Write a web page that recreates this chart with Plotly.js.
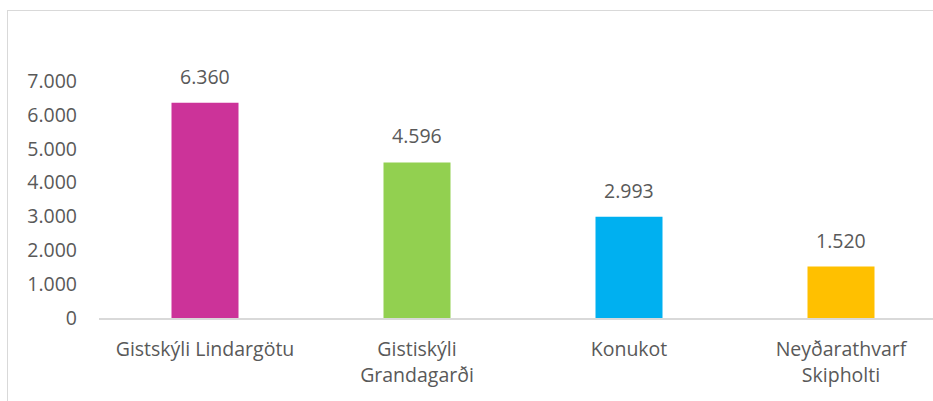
<!DOCTYPE html>
<html><head><meta charset="utf-8">
<script src="https://cdn.plot.ly/plotly-3.0.1.min.js"></script>
<style>
html,body{margin:0;padding:0;overflow:hidden;background:#fff;}
#wrap{position:relative;width:933px;height:401px;overflow:hidden;}
#chart{position:absolute;left:0;top:0;}
#frame{position:absolute;left:7px;top:10px;width:960px;height:420px;border:1px solid #d9d9d9;pointer-events:none;}
</style></head>
<body>
<div id="wrap"><div id="chart"></div><div id="frame"></div></div>
<script>
const categories = ["Gistskýli Lindargötu", "Gistiskýli<br>Grandagarði", "Konukot", "Neyðarathvarf<br>Skipholti"];
const values = [6360, 4596, 2993, 1520];
const labels = ["6.360", "4.596", "2.993", "1.520"];
const colors = ["#CC3399", "#92D050", "#00B0F0", "#FFC000"];
const tickVals = [0, 1000, 2000, 3000, 4000, 5000, 6000, 7000];
const tickText = ["0", "1.000", "2.000", "3.000", "4.000", "5.000", "6.000", "7.000"];

const font = {family: "Open Sans, Noto Sans, sans-serif", size: 19.5, color: "#595959"};

const trace = {
  type: "bar", x: categories, y: values,
  marker: {color: colors}, width: 0.316, hoverinfo: "none"
};
const annotations = categories.map((c, i) => ({
  x: c, y: values[i], text: labels[i], showarrow: false,
  yanchor: "bottom", yshift: 11, font: font
}));
const layout = {
  width: 960, height: 401,
  margin: {l: 99, r: 13, t: 81, b: 83},
  paper_bgcolor: "rgba(0,0,0,0)", plot_bgcolor: "rgba(0,0,0,0)",
  showlegend: false, font: font,
  xaxis: {showline: true, linecolor: "#d9d9d9", linewidth: 2, ticks: "", showgrid: false,
          tickfont: font, ticklabelstandoff: 13, fixedrange: true},
  yaxis: {range: [0, 7000], tickvals: tickVals, ticktext: tickText, showgrid: false,
          zeroline: false, showline: false, ticks: "", tickfont: font, ticklabelstandoff: 21, fixedrange: true},
  annotations: annotations
};
Plotly.newPlot("chart", [trace], layout, {displayModeBar: false, staticPlot: true});
</script>
</body></html>
